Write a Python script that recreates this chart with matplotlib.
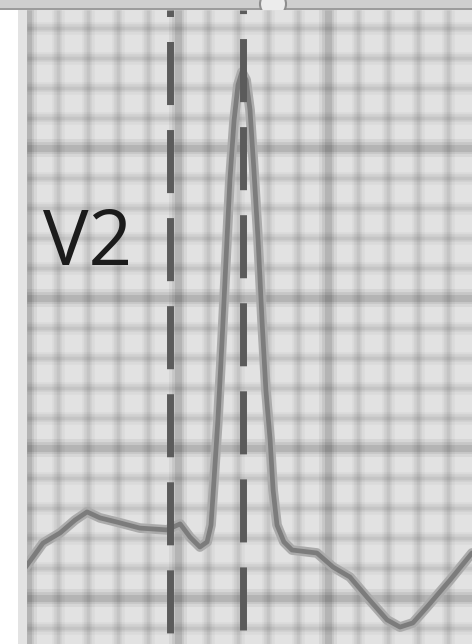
import numpy as np
import matplotlib
matplotlib.use('Agg')
import matplotlib.pyplot as plt
from matplotlib.patches import Rectangle, Ellipse

plt.rcParams['lines.scale_dashes'] = False

# ECG trace, lead V2: time and amplitude in small boxes (1 mm) from the grid origin
t_mm = [-0.1, 0.5, 1.07, 1.57, 1.97, 2.4, 2.97, 3.73, 4.63, 5.07, 5.4, 5.73, 5.97,
        6.1, 6.2, 6.33, 6.47, 6.6, 6.73, 6.87, 7.0, 7.13, 7.27, 7.4, 7.53, 7.67,
        7.8, 7.93, 8.07, 8.17, 8.3, 8.53, 8.8, 9.63, 10.17, 10.73, 11.3, 11.97,
        12.4, 12.83, 13.3, 14.07, 14.8]
v_mm = [1.0, 1.83, 2.17, 2.6, 2.87, 2.67, 2.53, 2.33, 2.27, 2.47, 2.03, 1.7, 1.87,
        2.43, 3.93, 5.93, 8.6, 11.27, 13.93, 15.93, 17.1, 17.53, 17.27, 16.27, 14.27, 11.93,
        9.27, 6.93, 5.27, 3.6, 2.43, 1.87, 1.6, 1.5, 1.03, 0.7, 0.03, -0.73,
        -0.97, -0.83, -0.3, 0.6, 1.5]

# caliper markers (dashed vertical lines)
marker_x = [4.73, 7.17]
lead_label = 'V2'

W, H = 472, 644
fig = plt.figure(figsize=(W / 100, H / 100), dpi=100)
fig.patch.set_facecolor('white')

# window bar on top + small knob
fig.add_artist(Rectangle((0, 1 - 9 / H), 1, 9 / H, transform=fig.transFigure,
                         facecolor='#cfcfcf', edgecolor='none', zorder=-3))
fig.add_artist(Rectangle((0, 1 - 10 / H), 1, 2 / H, transform=fig.transFigure,
                         facecolor='#9c9c9c', edgecolor='none', zorder=-3))
fig.add_artist(Ellipse((273 / W, 1 - 4 / H), 26 / W, 26 / H, transform=fig.transFigure,
                       facecolor='#ececec', edgecolor='#8e8e8e', lw=1.5, zorder=-2))
# light strip left of the paper
fig.add_artist(Rectangle((18 / W, 0), 9 / W, 1 - 10 / H, transform=fig.transFigure,
                         facecolor='#e3e3e3', edgecolor='none', zorder=-3))

ax = fig.add_axes([27 / W, 0, (W - 27) / W, (H - 10) / H])
ax.set_facecolor('#e2e2e2')
x0, x1 = (27 - 28) / 30, (W - 28) / 30
y0, y1 = (598 - H) / 30, (598 - 10) / 30
ax.set_xlim(x0, x1)
ax.set_ylim(y0, y1)
ax.set_xticks([])
ax.set_yticks([])
for s in ax.spines.values():
    s.set_visible(False)

# blurry ECG paper grid: stacked translucent strokes
gx = np.arange(0, 16)
gy = np.arange(-1, 20)
for pos_x, pos_y, layers in [
        (gx[gx % 5 != 0], gy[gy % 5 != 0], [(9, 0.03), (5.5, 0.045), (2.5, 0.05)]),
        (gx[gx % 5 == 0], gy[gy % 5 == 0], [(13, 0.05), (8.5, 0.07), (5, 0.09)])]:
    for lw, a in layers:
        ax.vlines(pos_x, y0, y1, color='black', alpha=a, lw=lw, zorder=0.5)
        ax.hlines(pos_y, x0, x1, color='black', alpha=a, lw=lw, zorder=0.5)

# trace (soft halo + core)
ax.plot(t_mm, v_mm, color='#ababab', lw=7, solid_joinstyle='round',
        solid_capstyle='round', zorder=2)
ax.plot(t_mm, v_mm, color='#7c7c7c', lw=3.4, solid_joinstyle='round',
        solid_capstyle='round', zorder=3)

# dashed calipers
offsets = [55.4, 53.3]
for xm, off in zip(marker_x, offsets):
    ax.axvline(xm, color='#5b5b5b', lw=5.0,
               linestyle=(off, (45.4, 18.0)), zorder=4)

ax.text(0.5, 11.1, lead_label, fontsize=55, family=['Open Sans', 'DejaVu Sans'],
        color='#1b1b1b', va='baseline', ha='left', zorder=5)

fig.savefig('out.png', dpi=100)
